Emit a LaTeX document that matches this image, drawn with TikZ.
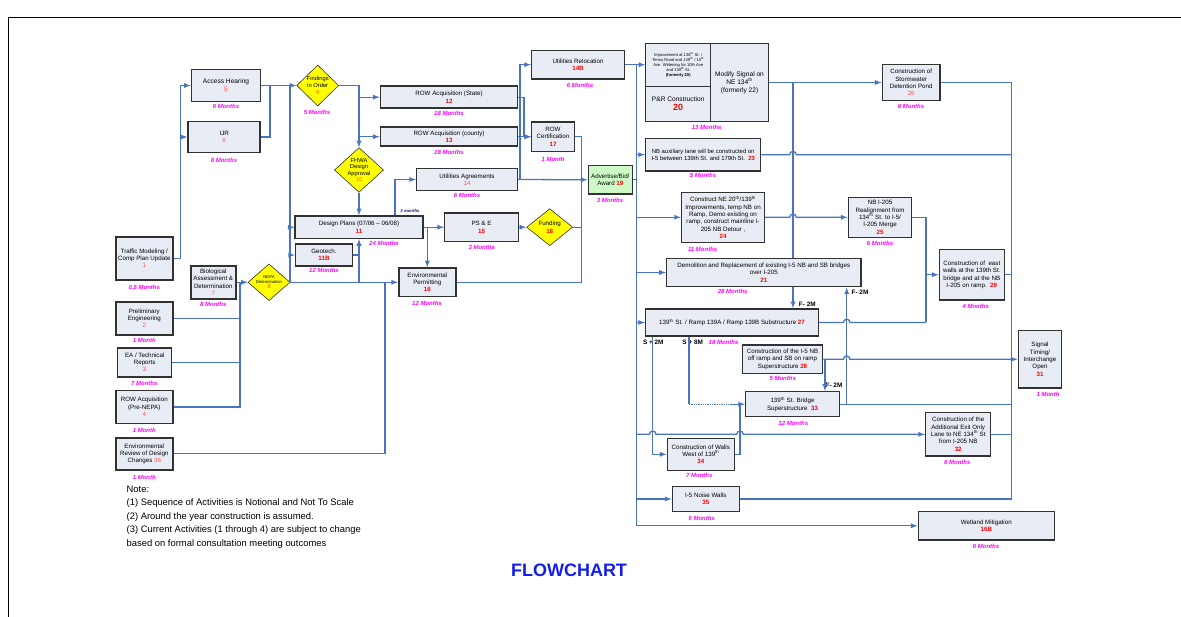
\documentclass[tikz,border=0pt]{standalone}
\usepackage{fontspec}
\setmainfont{Liberation Sans}
\usetikzlibrary{arrows,shapes.geometric}

\definecolor{boxfill}{RGB}{232,236,245}
\definecolor{boxline}{RGB}{50,50,50}
\definecolor{linkblue}{RGB}{74,116,192}
\definecolor{monthpink}{RGB}{255,0,255}
\definecolor{numred}{RGB}{255,0,0}
\definecolor{numlight}{RGB}{255,85,85}
\definecolor{numorange}{RGB}{255,140,0}
\definecolor{gateyellow}{RGB}{255,255,0}
\definecolor{adgreen}{RGB}{206,250,200}
\definecolor{titleblue}{RGB}{20,30,235}
\definecolor{lagnavy}{RGB}{20,20,110}

\newcommand{\nr}[1]{{\color{numred}\bfseries #1}}
\newcommand{\nl}[1]{{\color{numlight}#1}}
\newcommand{\no}[1]{{\color{numorange}\bfseries #1}}
\newcommand{\tht}{\textsuperscript{th}}

\tikzset{
  taskbox/.style={draw=boxline, line width=1.5pt, fill=boxfill, align=center, inner sep=0pt,
    font=\fontsize{6.2}{7.4}\selectfont},
  cell/.style={taskbox, line width=0.9pt},
  gate/.style={diamond, aspect=1.1, draw=boxline, line width=0.6pt, fill=gateyellow, align=center,
    inner sep=0pt, font=\fontsize{5.8}{6.6}\selectfont},
  months/.style={text=monthpink, inner sep=0pt, font=\fontsize{6}{7}\selectfont\bfseries\itshape},
  lag/.style={inner sep=0pt, font=\fontsize{6.4}{7}\selectfont\bfseries},
  flow/.style={draw=linkblue, line width=1.3pt},
  >=latex
}

\begin{document}
\begin{tikzpicture}[x=1pt,y=-1pt]
\useasboundingbox (0,0) rectangle (1181,617);
\draw[line width=0.8pt] (8,617) -- (8,17) -- (1181,17);

% left column
\node[taskbox, minimum width=57pt, minimum height=43pt] (n1) at (144.3,258.3) {Traffic Modeling /\\Comp Plan Update\\\nl{1}};
\node[taskbox, minimum width=57pt, minimum height=33pt] (n2) at (144.3,318.3) {Preliminary\\Engineering\\\nl{2}};
\node[taskbox, minimum width=54pt, minimum height=29pt] (n3) at (144.7,362.3) {EA / Technical\\Reports\\\nl{3}};
\node[taskbox, minimum width=57pt, minimum height=33pt] (n4) at (144.3,407) {ROW Acquisition\\(Pre-NEPA)\\\nl{4}};
\node[taskbox, minimum width=57pt, minimum height=32pt] (n36) at (144.3,453.8) {Environmental\\Review of Design\\Changes \nl{36}};
\node[taskbox, minimum width=45pt, minimum height=33pt] (n7) at (213.3,282.3) {Biological\\Assessment \&\\Determination\\\nl{7}};
\node[taskbox, minimum width=69pt, minimum height=32pt, font=\fontsize{6.6}{7.8}\selectfont] (n5) at (226,85.5) {Access Hearing\\\nl{5}};
\node[taskbox, minimum width=72pt, minimum height=31pt] (n6) at (224.2,137) {IJR\\\nl{6}};

% gates
\node[gate, minimum width=42pt, minimum height=31pt, font=\fontsize{4.2}{5}\selectfont] (n8) at (269,282.3) {NEPA\\Determination\\{\fontsize{6}{7}\selectfont\no{8}}};
\node[gate, minimum width=42pt, minimum height=41pt] (n9) at (317.7,85.5) {Findings\\in Order\\\no{9}};
\node[gate, minimum width=48pt, minimum height=44pt] (n10) at (359,170) {FHWA\\Design\\Approval\\\no{10}};
\node[gate, minimum width=46pt, minimum height=37pt, font=\fontsize{6.2}{7.6}\selectfont] (n18) at (549.7,227.2) {Funding\\\nr{18}};

% design and right of way
\node[taskbox, minimum width=137pt, minimum height=22pt] (n12) at (449,97.2) {ROW Acquisition (State)\\\nr{12}};
\node[taskbox, minimum width=137pt, minimum height=19pt] (n13) at (449,136.7) {ROW Acquisition (county)\\\nr{13}};
\node[taskbox, minimum width=100.6pt, minimum height=22.4pt] (n14) at (467,179.5) {Utilities Agreements\\\nl{14}};
\node[taskbox, minimum width=92.6pt, minimum height=28.3pt] (n14B) at (578,64.7) {Utilities Relocation\\\nr{14B}};
\node[taskbox, minimum width=42.6pt, minimum height=29.3pt] (n17) at (553,136.7) {ROW\\Certification\\\nr{17}};
\node[taskbox, fill=adgreen, minimum width=44pt, minimum height=28.3pt] (n19) at (610.3,179.8) {Advertise/Bid/\\Award \nr{19}};
\node[taskbox, minimum width=127.6pt, minimum height=22.3pt] (n11) at (359,227.2) {Design Plans (07/06 -- 06/08)\\\nr{11}};
\node[taskbox, minimum width=56.6pt, minimum height=22pt] (n11B) at (324,255) {Geotech.\\\nr{11B}};
\node[taskbox, minimum width=73.6pt, minimum height=28.3pt] (n15) at (481.5,227.2) {PS \& E\\\nr{15}};
\node[taskbox, minimum width=57pt, minimum height=28.4pt] (n16) at (427.3,282.3) {Environmental\\Permitting\\\nr{16}};

% construction
\node[cell, minimum width=65pt, minimum height=42.7pt, font=\fontsize{4.1}{5.1}\selectfont] (n20a) at (678.2,64.7) {Improvement at 136\tht{} St. /\\Tenny Road and 139\tht{} / 10\tht\\Ave. Widening for 10th Ave\\and 139\tht{} St.\\\textbf{(formerly 20)}};
\node[cell, minimum width=65pt, minimum height=35.7pt, font=\fontsize{6.6}{9}\selectfont] (n20b) at (678.2,103.9) {P\&R Construction\\{\fontsize{9}{10}\selectfont\nr{20}}};
\node[cell, minimum width=57.6pt, minimum height=78.4pt, font=\fontsize{6.6}{8}\selectfont] (n22) at (739.5,82.5) {Modify Signal on\\NE 134\tht\\(formerly 22)};
\node[taskbox, fill=none, minimum width=122.6pt, minimum height=78.4pt] (n20) at (707,82.5) {};
\node[taskbox, minimum width=115pt, minimum height=32.7pt, font=\fontsize{5.9}{7.2}\selectfont] (n23) at (703.2,154.7) {NB auxiliary lane will be constructed on\\I-5 between 139th St. and 179th St.\ \ \nr{23}};
\node[taskbox, minimum width=82.6pt, minimum height=50pt] (n24) at (723,217.3) {Construct NE 20\tht/139\tht\\Improvements, temp NB on\\Ramp, Demo existing on\\ramp, construct mainline I-\\205 NB Detour ,\\\nr{24}};
\node[taskbox, minimum width=194.3pt, minimum height=28.4pt] (n21) at (763.8,272.5) {Demolition and Replacement of existing I-5 NB and SB bridges\\over I-205\\\nr{21}};
\node[taskbox, minimum width=63.4pt, minimum height=40pt] (n25) at (880,217.3) {NB I-205\\Realignment from\\134\tht{} St. to I-5/\\I-205 Merge\\\nr{25}};
\node[taskbox, minimum width=57.7pt, minimum height=36.3pt] (n26) at (911.2,82.5) {Construction of\\Stormwater\\Detention Pond\\\nl{26}};
\node[taskbox, minimum width=65pt, minimum height=50.7pt] (n29) at (971.8,274.7) {Construction of\ \ east\\walls at the 139th St.\\bridge and at the NB\\I-205 on ramp.\ \ \nr{29}};
\node[taskbox, minimum width=43.4pt, minimum height=57.4pt] (n31) at (1040,359.3) {Signal\\Timing/\\Interchange\\Open\\\nr{31}};
\node[taskbox, minimum width=172.6pt, minimum height=27pt] (n27) at (732,322.5) {139\tht{} St. / Ramp 139A / Ramp 139B Substructure \nr{27}};
\node[taskbox, minimum width=80.4pt, minimum height=28.7pt] (n28) at (782.5,359.3) {Construction of the I-5 NB\\off ramp and SB on ramp\\Superstructure \nr{28}};
\node[taskbox, minimum width=93.6pt, minimum height=25pt] (n33) at (792.5,404.2) {139\tht{} St. Bridge\\Superstructure\ \ \nr{33}};
\node[taskbox, minimum width=67pt, minimum height=32pt] (n34) at (700.8,454.3) {Construction of Walls\\West of 139\tht\\\nr{34}};
\node[taskbox, minimum width=67pt, minimum height=24.6pt] (n35) at (705.8,499) {I-5 Noise Walls\\\nr{35}};
\node[taskbox, minimum width=65pt, minimum height=43.3pt] (n32) at (958.2,434.3) {Construction of the\\Additional Exit Only\\Lane to NE 134\tht{} St\\from I-205 NB\\\nr{32}};
\node[taskbox, minimum width=136pt, minimum height=28.3pt] (n16B) at (986.3,525.8) {Wetland Mitigation\\\nr{16B}};

% durations
\node[months] (m1) at (144.3,287) {0.5 Months};
\node[months] (m2) at (144.3,340.7) {1 Month};
\node[months] (m3) at (144.3,383.3) {7 Months};
\node[months] (m4) at (144.3,430.3) {1 Month};
\node[months] (m36) at (144.3,477.7) {1 Month};
\node[months] (m7) at (213.3,304.3) {8 Months};
\node[months] (m5) at (226,106.7) {6 Months};
\node[months] (m6) at (224,160.7) {8 Months};
\node[months] (m9) at (317,112.3) {5 Months};
\node[months] (m12) at (449,113) {18 Months};
\node[months] (m13) at (449,152.7) {18 Months};
\node[months] (m14) at (467,195.7) {6 Months};
\node[months] (m14B) at (580,85.7) {6 Months};
\node[months] (m17) at (553,159.3) {1 Month};
\node[months] (m19) at (610,200.7) {3 Months};
\node[months] (m11) at (384,243.3) {24 Months};
\node[months] (m11B) at (324,270.7) {12 Months};
\node[months] (m15) at (481.7,247.7) {3 Months};
\node[months] (m16) at (427,303.3) {12 Months};
\node[months] (m20) at (706.7,127.7) {13 Months};
\node[months] (m23) at (703,175.7) {5 Months};
\node[months] (m24) at (702.7,249) {11 Months};
\node[months] (m21) at (732.7,291.7) {28 Months};
\node[months] (m25) at (880,243.3) {6 Months};
\node[months] (m26) at (911,106.7) {6 Months};
\node[months] (m29) at (975.7,306.7) {4 Months};
\node[months] (m31) at (1048,394.7) {1 Month};
\node[months] (m27) at (723.5,342.7) {18 Months};
\node[months] (m28) at (782.7,378.7) {5 Months};
\node[months] (m33) at (793.3,423.7) {12 Months};
\node[months] (m34) at (699.3,475.7) {7 Months};
\node[months] (m35) at (701.7,518.7) {6 Months};
\node[months] (m32) at (957.3,462.3) {6 Months};
\node[months] (m16B) at (986,546.7) {6 Months};
\node[inner sep=0pt, text=lagnavy, font=\fontsize{4.3}{5}\selectfont\bfseries\itshape] (lag11) at (410,211) {3 months};

% lags
\node[lag] (f1) at (807.3,304.7) {F- 2M};
\node[lag] (f2) at (860,292.7) {F- 2M};
\node[lag] (f3) at (834,385.7) {F- 2M};
\node[lag] (s1) at (653.3,342.7) {S + 2M};
\node[lag] (s2) at (692.7,342.7) {S + 8M};

% junctions
\coordinate (j1) at (180.7,85.5);
\coordinate (j2) at (270,85.5);
\coordinate (j3) at (290,282.3);
\coordinate (j4) at (240,282.3);
\coordinate (j5) at (385,282.3);
\coordinate (j6) at (359,282.3);
\coordinate (j8) at (395,0);
\coordinate (j9) at (427.3,0);
\coordinate (j10) at (581.7,0);
\coordinate (j11) at (520,0);
\coordinate (j12) at (524,0);
\coordinate (bus) at (636.7,0);
\coordinate (j13) at (793,0);
\coordinate (bus2) at (1011.7,0);
\coordinate (j14) at (926,0);
\coordinate (j15) at (846.7,0);
\coordinate (j16) at (825,0);
\coordinate (j17) at (652.7,0);
\coordinate (j18) at (689,0);
\coordinate (j19) at (740,0);

% left side links
\draw[flow,->] (n1.east) -| (j1) -- (n5.west);
\draw[flow,->] (j1 |- n6.west) -- (n6.west);
\draw[flow,->] (n5.east) -- (n9.west);
\draw[flow] (n6.east) -| (j2);
\draw[flow] (n8.east) -- (j3) -- (j3 |- n9.west);
\draw[flow,->] (j3 |- n11.west) -- (n11.west);
\draw[flow,->] (j3 |- n11B.west) -- (n11B.west);
\draw[flow] (n2.east) -- (n2.east -| j4);
\draw[flow] (n3.east) -- (n3.east -| j4);
\draw[flow] (n4.east) -| (j4);
\draw[flow,->] (n7.east) -- (n8.west);
\draw[flow] (n36.east) -| (j5);
\draw[flow,->] (j3) -- (n16.west);
\draw[flow,->] (j6) -- (n11.south);
\draw[flow] (n11B.east) -- (n11B.east -| j6);
\draw[flow,->] (n9.east) -| (n10.north);
\draw[flow,->] (j2 -| n10.north) |- (n12.west);
\draw[flow,->] (j2 -| n10.north) |- (n13.west);
\draw[flow,->] (n10.south) -- (n11.north);
\draw[flow,->] (j8 |- n11.north) |- (n14.west);
\draw[flow,->] (n11.east) -- (n15.west);
\draw[flow,->] (n15.east) -- (n18.west);
\draw[flow,->] (j9 |- n11.east) -- (n16.north);
\draw[flow] (n18.east) -- (n18.east -| j10);
\draw[flow] (n17.east) -| (j10 |- n16.east) -- (n16.east);
\draw[flow,->] (n14.east) -- (n19.west);
\draw[flow,->] (j11 |- n14.east) |- (n14B.west);
\draw[flow,->] (n12.east) -| (j12 |- n17.west) -- (n17.west);
\draw[flow,->] (n13.east) -- (n17.west);

% bus
\draw[flow,->] (n14B.east) -- (n20a.west);
\draw[flow] (bus |- n14B.east) -- (bus |- n16B.west);
\draw[flow] (n19.east) -- (n19.east -| bus);
\draw[flow,->] (bus |- n23.west) -- (n23.west);
\draw[flow,->] (bus |- n24.west) -- (n24.west);
\draw[flow,->] (bus |- n21.west) -- (n21.west);
\draw[flow,->] (bus |- n27.west) -- (n27.west);
\draw[flow,->] (bus |- n35.west) -- (n35.west);
\draw[flow,->] (bus |- n16B.west) -- (n16B.west);
\draw[flow,->] (bus |- n32.west) -- (649.4,434.3) arc[start angle=180, end angle=360, radius=3.3]
  -- (736.7,434.3) arc[start angle=180, end angle=360, radius=3.3] -- (n32.west);

% right side links
\draw[flow,->] (n20.east) -- (n26.west);
\draw[flow] (j13 |- n20.east) -- (j13 |- n21.north);
\draw[flow,->] (j13 |- n21.south) -- (j13 |- n27.north);
\draw[flow] (n26.east) -| (bus2 |- n35.east);
\draw[flow] (n23.east) -- (789.7,154.7) arc[start angle=180, end angle=360, radius=3.3] -- (n23.east -| bus2);
\draw[flow,->] (n24.east) -- (789.7,217.3) arc[start angle=180, end angle=360, radius=3.3] -- (n25.west);
\draw[flow] (n25.east) -| (j14 |- n27.east);
\draw[flow,->] (j14 |- n29.west) -- (n29.west);
\draw[flow] (n27.east) -- (843.4,322.5) arc[start angle=180, end angle=360, radius=3.3] -- (j14 |- n27.east);
\draw[flow] (n29.east) -- (n29.east -| bus2);
\draw[flow,->] (j15 |- n33.east) -- (j15 |- n21.south);
\draw[flow,->] (n28.east) -- (843.4,359.3) arc[start angle=180, end angle=360, radius=3.3] -- (n31.west);
\draw[flow,->] (j16 |- n28.east) -- (j16 |- n33.north);
\draw[flow] (n33.east) -- (n33.east -| bus2);
\draw[flow] (n32.east) -- (n32.east -| bus2);
\draw[flow] (n35.east) -- (n35.east -| bus2);
\draw[flow,->] (j17 |- n27.south) |- (n34.west);
\draw[flow] (j18 |- n27.south) -- (j18 |- n33.west);
\draw[flow,densely dotted] (j18 |- n33.west) -- (730,404.2);
\draw[flow,->] (730,404.2) -- (n33.west);
\draw[flow] (n34.east) -| (j19 |- n33.west);

% notes and title
\node[anchor=north west, align=left, inner sep=0pt, font=\fontsize{9.4}{13.5}\selectfont] (note) at (126.5,485.5)
  {Note:\\(1) Sequence of Activities is Notional and Not To Scale\\(2) Around the year construction is assumed.\\(3) Current Activities (1 through 4) are subject to change\\based on formal consultation meeting outcomes};
\node[inner sep=0pt, text=titleblue, font=\fontsize{18}{20}\selectfont\bfseries] (title) at (569,570) {FLOWCHART};
\end{tikzpicture}
\end{document}
